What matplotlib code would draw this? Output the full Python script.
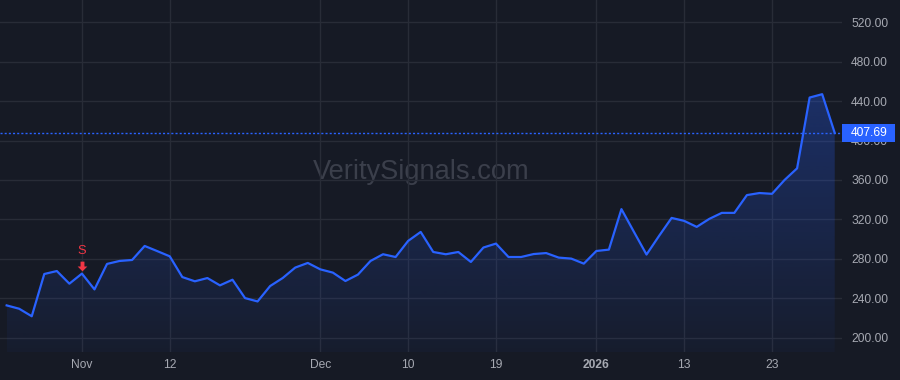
import matplotlib
matplotlib.use("Agg")
import matplotlib.pyplot as plt
import numpy as np
import pandas as pd
from matplotlib.path import Path
from matplotlib.patches import Polygon, Rectangle
from matplotlib.transforms import ScaledTranslation, blended_transform_factory

plt.rcParams['font.family'] = ['Liberation Sans', 'DejaVu Sans']

# trading days shown on the chart (US market calendar)
holidays = ['2025-11-27', '2025-12-25', '2026-01-01', '2026-01-19']
dates = pd.bdate_range('2025-10-24', '2026-01-30', freq='C', holidays=holidays)

prices = [233.0, 229.6, 222.0, 264.8, 267.8, 255.0, 265.2, 249.2, 275.0, 278.0,
          279.0, 293.2, 288.0, 282.7, 261.7, 257.4, 260.7, 253.3, 259.0, 240.4,
          237.0, 252.6, 260.7, 271.3, 276.0, 269.5, 266.2, 257.7, 264.2, 278.0,
          284.8, 282.0, 298.3, 307.4, 287.1, 284.8, 287.1, 277.0, 291.6, 295.6,
          282.0, 282.0, 285.0, 286.0, 281.4, 280.4, 275.3, 288.1, 289.5, 330.5,
          307.4, 284.5, 303.4, 321.6, 318.6, 312.5, 320.6, 326.7, 326.7, 344.7,
          346.8, 346.0, 360.0, 371.8, 443.5, 446.9, 407.69]

tick_dates = ['2025-11-03', '2025-11-12', '2025-12-01', '2025-12-10',
              '2025-12-19', '2026-01-02', '2026-01-13', '2026-01-23']
tick_labels = ['Nov', '12', 'Dec', '10', '19', '2026', '13', '23']
y_ticks = [200, 240, 280, 320, 360, 400, 440, 480, 520]

signal_date = '2025-11-03'
signal_label = 'S'

bg = '#161a25'
grid_c = '#282c37'
line_c = '#2962ff'
text_c = '#a6a9b2'
red = '#f23645'

x = np.arange(len(prices))
y = np.array(prices)
date_idx = {d.strftime('%Y-%m-%d'): i for i, d in enumerate(dates)}

fig = plt.figure(figsize=(9, 3.8), dpi=100, facecolor=bg)
ax = fig.add_axes([0, 28 / 380, 842 / 900, 352 / 380], facecolor=bg)

ymin, ymax = 185.8, 542.3
ax.set_xlim(-0.53, 66.58)
ax.set_ylim(ymin, ymax)

# gradient fill under the line
verts = [(x[0], ymin)] + list(zip(x, y)) + [(x[-1], ymin)]
poly = Polygon(verts, closed=True, facecolor='none', edgecolor='none')
ax.add_patch(poly)
grad = np.zeros((256, 1, 4))
grad[:, 0, :3] = matplotlib.colors.to_rgb(line_c)
grad[:, 0, 3] = np.linspace(0.04, 0.30, 256)
im = ax.imshow(grad, aspect='auto', origin='lower',
               extent=[x[0], x[-1], ymin, y.max()], zorder=1)
im.set_clip_path(poly)

ax.plot(x, y, color=line_c, lw=1.6, zorder=3)

# last price line and label
last = prices[-1]
ax.axhline(last, color=line_c, lw=1, ls=(0, (1.5, 1.5)), zorder=2)
trans = blended_transform_factory(fig.transFigure, ax.transData)
ax.add_patch(Rectangle((842 / 900, last - 8.7), 53 / 900, 17.4, transform=trans,
                       facecolor=line_c, edgecolor='none', clip_on=False, zorder=6))
ax.text(851 / 900, last, f'{last:.2f}', transform=trans, color='white',
        fontsize=8.64, ha='left', va='center', zorder=7, clip_on=False)

# sell signal marker
si = date_idx[signal_date]
arrow = Path([(-0.2, 0.5), (0.2, 0.5), (0.2, 0.0), (0.5, 0.0), (0.0, -0.5),
              (-0.5, 0.0), (-0.2, 0.0), (-0.2, 0.5)], closed=True)
ax.plot([x[si]], [y[si]], marker=arrow, markersize=7, color=red, mec='none',
        transform=ax.transData + ScaledTranslation(0, 0.075, fig.dpi_scale_trans),
        zorder=5, clip_on=False)
ax.annotate(signal_label, xy=(x[si], y[si]), xytext=(0, 16.5), textcoords='offset points',
            ha='center', va='center', color=red, fontsize=9.3, zorder=5)

# watermark
ax.text(0.5, 0.51, 'VeritySignals.com', transform=ax.transAxes, fontsize=19.6,
        color='#3b3f4b', ha='center', va='center', zorder=0.5)

# axes
ax.set_xticks([date_idx[d] for d in tick_dates])
ax.set_xticklabels(tick_labels)
for lbl, txt in zip(ax.get_xticklabels(), tick_labels):
    if txt.isdigit() and len(txt) == 4:
        lbl.set_fontweight('bold')
        lbl.set_color('#d1d4dc')
ax.set_yticks(y_ticks)
ax.set_yticklabels([f'{v:.2f}' for v in y_ticks])
ax.yaxis.tick_right()
ax.tick_params(axis='x', length=0, pad=5, labelsize=8.64, labelcolor=text_c)
ax.tick_params(axis='y', length=0, pad=6.5, labelsize=8.64, labelcolor=text_c)
ax.grid(True, color=grid_c, lw=1)
ax.set_axisbelow(True)
for s in ax.spines.values():
    s.set_visible(False)

fig.savefig('out.png', dpi=100, facecolor=bg)
